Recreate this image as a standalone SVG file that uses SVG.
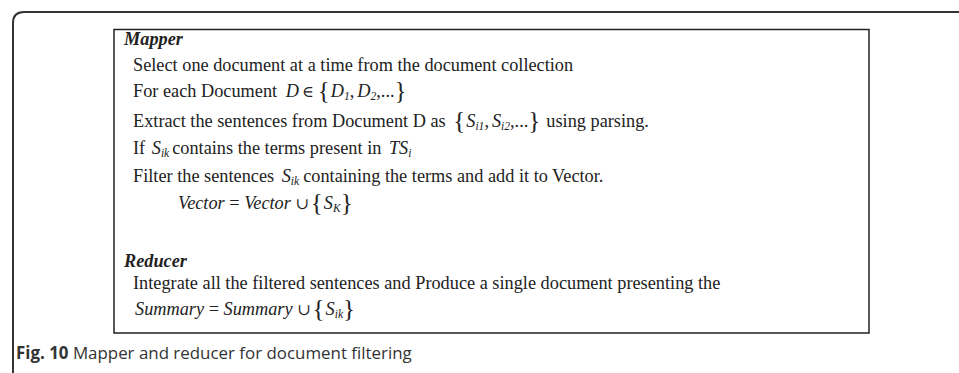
<svg xmlns="http://www.w3.org/2000/svg" width="959" height="373" viewBox="0 0 959 373">
<style>
.t{font-family:"Liberation Serif","Times New Roman",serif;font-size:18.3px;fill:#222}
.i{font-style:italic}
.h{font-weight:bold;font-style:italic}
.s{font-size:11.5px;font-style:italic}
.b{font-size:25px}
.m{font-family:"DejaVu Serif",serif;font-size:16px}
.cap{font-family:"Open Sans","Noto Sans",sans-serif;font-size:16.9px;fill:#333}
</style>
<rect width="959" height="373" fill="#fff"/>
<g id="frame">
<path d="M13,373 V23 Q13,12 24,12 H959" fill="none" stroke="#333" stroke-width="2"/>
</g>
<g id="box">
<rect x="114" y="29.5" width="755" height="303.5" fill="none" stroke="#222" stroke-width="1.5"/>
</g>
<g id="mapper">
<text class="t h" x="124" y="45">Mapper</text>
<text class="t" x="133" y="71">Select one document at a time from the document collection</text>
<text class="t" x="133" y="97">For each Document <tspan class="i" dx="4">D</tspan><tspan class="m" dx="3">∈</tspan><tspan class="b" dx="4" dy="2">{</tspan><tspan class="i" dx="1" dy="-2">D</tspan><tspan class="s" dy="3">1</tspan><tspan dy="-3">,</tspan><tspan class="i" dx="3">D</tspan><tspan class="s" dy="3">2</tspan><tspan dy="-3">,...</tspan><tspan class="b" dy="2">}</tspan></text>
<text class="t" x="133" y="127">Extract the sentences from Document D as <tspan class="b" dx="3" dy="2">{</tspan><tspan class="i" dx="1" dy="-2">S</tspan><tspan class="s" dy="3">i1</tspan><tspan dy="-3">,</tspan><tspan class="i" dx="3">S</tspan><tspan class="s" dy="3">i2</tspan><tspan dy="-3">,...</tspan><tspan class="b" dy="2">}</tspan><tspan dx="6" dy="-2">using parsing.</tspan></text>
<text class="t" x="133" y="154">If <tspan class="i" dx="2">S</tspan><tspan class="s" dy="3">ik</tspan><tspan dx="3" dy="-3">contains the terms present in </tspan><tspan class="i" dx="3">TS</tspan><tspan class="s" dy="3">i</tspan></text>
<text class="t" x="133" y="182">Filter the sentences <tspan class="i" dx="3">S</tspan><tspan class="s" dy="3">ik</tspan><tspan dx="4" dy="-3">containing the terms and add it to Vector.</tspan></text>
<text class="t" x="178" y="209"><tspan class="i">Vector</tspan> = <tspan class="i">Vector</tspan> <tspan class="m">∪</tspan><tspan class="b" dx="2" dy="2">{</tspan><tspan class="i" dx="1" dy="-2">S</tspan><tspan class="s" dy="3">K</tspan><tspan class="b" dy="-1">}</tspan></text>
</g>
<g id="reducer">
<text class="t h" x="124" y="267">Reducer</text>
<text class="t" x="133" y="289">Integrate all the filtered sentences and Produce a single document presenting the</text>
<text class="t" x="135" y="315"><tspan class="i">Summary</tspan> = <tspan class="i">Summary</tspan> <tspan class="m">∪</tspan><tspan class="b" dx="2" dy="2">{</tspan><tspan class="i" dx="1" dy="-2">S</tspan><tspan class="s" dy="3">ik</tspan><tspan class="b" dy="-1">}</tspan></text>
</g>
<g id="caption">
<text class="cap" x="16" y="359"><tspan font-weight="bold">Fig. 10</tspan> Mapper and reducer for document filtering</text>
</g>
</svg>
